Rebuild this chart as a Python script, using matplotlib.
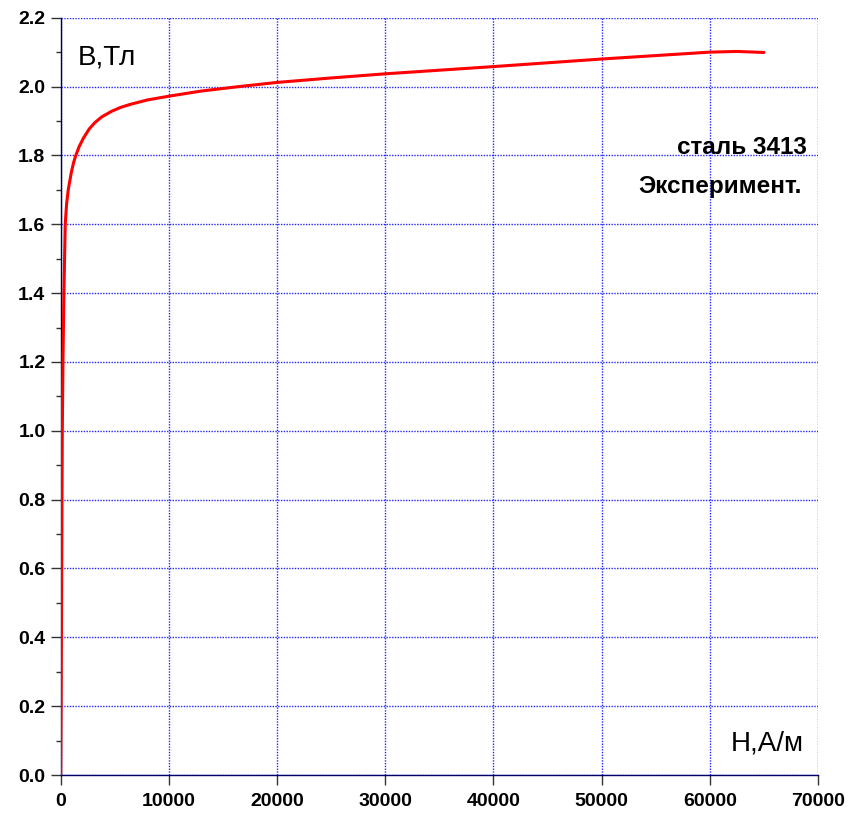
import matplotlib
matplotlib.use('Agg')
import matplotlib.pyplot as plt
from matplotlib.ticker import MultipleLocator

# ── Data ──────────────────────────────────────────────────────────────────────
H = [0, 40, 70, 95, 120, 150, 210, 300, 420, 550, 700, 980, 1200, 1400, 1700,
     2100, 2640, 3150, 3800, 4700, 5500, 6400, 8000, 10000, 13000, 16500,
     20000, 25000, 30000, 40000, 50000, 56000, 60000, 62500, 65000]
B = [0.0, 0.2, 0.4, 0.6, 0.8, 1.0, 1.2, 1.4, 1.6, 1.66, 1.7, 1.75, 1.78, 1.8,
     1.825, 1.85, 1.877, 1.895, 1.912, 1.928, 1.939, 1.948, 1.961, 1.972,
     1.987, 2.0, 2.012, 2.025, 2.037, 2.058, 2.08, 2.092, 2.1, 2.102, 2.099]

X_TICKS = [0, 10000, 20000, 30000, 40000, 50000, 60000, 70000]
Y_TICKS = [0.0, 0.2, 0.4, 0.6, 0.8, 1.0, 1.2, 1.4, 1.6, 1.8, 2.0, 2.2]

plt.rcParams['font.family'] = ['Liberation Sans', 'DejaVu Sans']

fig = plt.figure(figsize=(8.51, 8.16), dpi=100)
ax = fig.add_axes([0.0713, 0.0502, 0.8899, 0.9281])

ax.plot(H, B, color='#ff0000', lw=2.2, solid_capstyle='round',
        solid_joinstyle='round', zorder=5)

ax.set_xlim(0, 70000)
ax.set_ylim(0, 2.2)
ax.set_xticks(X_TICKS)
ax.set_yticks(Y_TICKS)
ax.set_xticklabels([str(v) for v in X_TICKS])
ax.set_yticklabels([f'{v:.1f}' for v in Y_TICKS])
ax.yaxis.set_minor_locator(MultipleLocator(0.1))

ax.grid(True, which='major', color='#0000ff', linestyle=(0, (1, 1)),
        lw=1.0, alpha=0.85)
ax.set_axisbelow(True)

for side in ('top', 'right'):
    ax.spines[side].set_visible(False)
ax.spines['left'].set_color('#000033')
ax.spines['bottom'].set_color('#000066')
ax.spines['left'].set_linewidth(1.0)
ax.spines['bottom'].set_linewidth(1.0)

ax.tick_params(axis='both', which='major', length=7, width=1, color='#333333',
               labelsize=14, direction='out')
ax.tick_params(axis='y', which='minor', length=3.6, width=1, color='#333333')
ax.tick_params(axis='y', which='major', pad=4)
ax.tick_params(axis='x', which='major', pad=6)
for lab in ax.get_xticklabels() + ax.get_yticklabels():
    lab.set_fontweight('bold')

# axis captions inside the plot
fig.text(78 / 851, 1 - 58 / 816, 'B,Тл', fontsize=20, ha='left', va='center')
fig.text(804 / 851, 1 - 743 / 816, 'H,А/м', fontsize=20, ha='right', va='center')
fig.text(807 / 851, 1 - 147 / 816, 'сталь 3413', fontsize=17.5, fontweight='bold',
         ha='right', va='center')
fig.text(802 / 851, 1 - 187 / 816, 'Эксперимент.', fontsize=17.5, fontweight='bold',
         ha='right', va='center')

fig.savefig('out.png', dpi=100)
